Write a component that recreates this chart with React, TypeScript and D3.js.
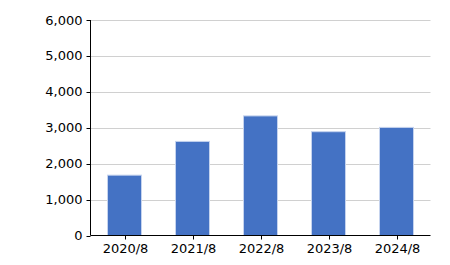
import React from "react";
import * as d3 from "d3";

const categories = ["2020/8", "2021/8", "2022/8", "2023/8", "2024/8"];
const values = [1680, 2620, 3330, 2890, 3010];
const yTicks = [0, 1000, 2000, 3000, 4000, 5000, 6000];

export default function App() {
  const W = 450, H = 265;
  const left = 90.5, right = 430.5, top = 20, bottom = 235.5;
  const x = d3.scaleBand().domain(categories).range([left, right]).paddingInner(0.5).paddingOuter(0.25);
  const y = d3.scaleLinear().domain([0, 6000]).range([bottom, top]);
  const fmt = d3.format(",");
  return (
    <svg width={W} height={H} style={{ position: "absolute", left: 0, top: 0 }} fontFamily="DejaVu Sans, Verdana, sans-serif" fontSize={13}>
      {yTicks.filter(t => t > 0).map(t => (
        <line key={t} x1={left} x2={right} y1={Math.round(y(t)) + 0.5} y2={Math.round(y(t)) + 0.5} stroke="#d0d0d0" strokeWidth={1} />
      ))}
      {categories.map((c, i) => (
        <rect key={c} x={x(c)} y={y(values[i])} width={x.bandwidth()} height={bottom - y(values[i])} fill="#4472C4" stroke="#c5d3ee" strokeWidth={1} />
      ))}
      <line x1={left} x2={left} y1={top} y2={bottom} stroke="#000" />
      <line x1={left} x2={right} y1={bottom} y2={bottom} stroke="#000" />
      {yTicks.map(t => (
        <g key={t}>
          <line x1={left - 4} x2={left} y1={Math.round(y(t)) + 0.5} y2={Math.round(y(t)) + 0.5} stroke="#000" />
          <text x={left - 8} y={y(t)} dy="0.35em" textAnchor="end" fill="#000">{fmt(t)}</text>
        </g>
      ))}
      {categories.map(c => {
        const cx = Math.round(x(c)! + x.bandwidth() / 2) + 0.5;
        return (
          <g key={c}>
            <line x1={cx} x2={cx} y1={bottom} y2={bottom + 4} stroke="#000" />
            <text x={cx} y={bottom + 17} textAnchor="middle" fill="#000">{c}</text>
          </g>
        );
      })}
    </svg>
  );
}
